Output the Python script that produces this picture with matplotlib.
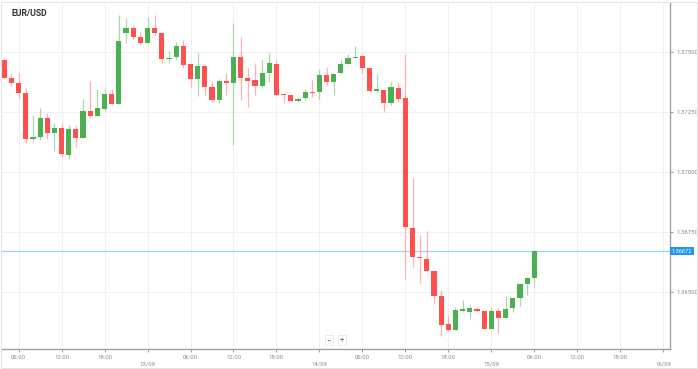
import matplotlib
matplotlib.use("Agg")
import matplotlib.pyplot as plt
from matplotlib.patches import Rectangle
import numpy as np

plt.rcParams['font.family'] = ['Roboto', 'DejaVu Sans']

title = "EUR/USD"
first_hour = 4  # first candle: 12/09 04:00 (hours counted from 12/09 00:00)
opens = [1.37468, 1.37394, 1.37371, 1.37329, 1.37140, 1.37146, 1.37228, 1.37163, 1.37183, 1.37072,
         1.37179, 1.37142, 1.37257, 1.37235, 1.37264, 1.37325, 1.37285, 1.37579, 1.37600, 1.37565,
         1.37538, 1.37600, 1.37582, 1.37471, 1.37479, 1.37528, 1.37450, 1.37388, 1.37442, 1.37357,
         1.37301, 1.37382, 1.37371, 1.37479, 1.37392, 1.37385, 1.37360, 1.37413, 1.37451, 1.37326,
         1.37322, 1.37297, 1.37308, 1.37336, 1.37336, 1.37405, 1.37376, 1.37413, 1.37451, 1.37475,
         1.37485, 1.37436, 1.37339, 1.37343, 1.37288, 1.37350, 1.37308, 1.36769, 1.36648, 1.36640,
         1.36590, 1.36485, 1.36367, 1.36344, 1.36423, 1.36417, 1.36430, 1.36423, 1.36348, 1.36422,
         1.36394, 1.36433, 1.36475, 1.36533, 1.36561]
highs = [1.37476, 1.37415, 1.37415, 1.37350, 1.37239, 1.37267, 1.37248, 1.37204, 1.37204, 1.37197,
         1.37197, 1.37304, 1.37380, 1.37346, 1.37350, 1.37346, 1.37655, 1.37642, 1.37614, 1.37586,
         1.37648, 1.37655, 1.37582, 1.37507, 1.37542, 1.37551, 1.37450, 1.37496, 1.37447, 1.37378,
         1.37388, 1.37415, 1.37623, 1.37565, 1.37433, 1.37454, 1.37468, 1.37498, 1.37468, 1.37326,
         1.37322, 1.37315, 1.37346, 1.37385, 1.37429, 1.37438, 1.37410, 1.37471, 1.37493, 1.37526,
         1.37493, 1.37436, 1.37408, 1.37343, 1.37378, 1.37378, 1.37493, 1.36976, 1.36739, 1.36757,
         1.36590, 1.36510, 1.36401, 1.36440, 1.36468, 1.36447, 1.36440, 1.36423, 1.36436, 1.36436,
         1.36485, 1.36475, 1.36538, 1.36565, 1.36676]
lows = [1.37393, 1.37360, 1.37308, 1.37123, 1.37128, 1.37135, 1.37138, 1.37090, 1.37063, 1.37054,
        1.37107, 1.37142, 1.37225, 1.37235, 1.37255, 1.37285, 1.37285, 1.37540, 1.37551, 1.37535,
        1.37538, 1.37572, 1.37457, 1.37454, 1.37471, 1.37433, 1.37354, 1.37318, 1.37322, 1.37294,
        1.37290, 1.37322, 1.37114, 1.37301, 1.37273, 1.37322, 1.37354, 1.37378, 1.37322, 1.37288,
        1.37294, 1.37294, 1.37301, 1.37315, 1.37305, 1.37360, 1.37322, 1.37410, 1.37451, 1.37475,
        1.37413, 1.37336, 1.37329, 1.37253, 1.37280, 1.37294, 1.36554, 1.36607, 1.36540, 1.36586,
        1.36451, 1.36316, 1.36337, 1.36344, 1.36419, 1.36388, 1.36419, 1.36348, 1.36348, 1.36330,
        1.36394, 1.36419, 1.36444, 1.36489, 1.36521]
closes = [1.37394, 1.37371, 1.37329, 1.37138, 1.37148, 1.37228, 1.37163, 1.37183, 1.37076, 1.37179,
          1.37142, 1.37257, 1.37235, 1.37267, 1.37325, 1.37285, 1.37547, 1.37603, 1.37565, 1.37538,
          1.37600, 1.37582, 1.37471, 1.37476, 1.37528, 1.37447, 1.37388, 1.37442, 1.37357, 1.37301,
          1.37382, 1.37371, 1.37482, 1.37392, 1.37382, 1.37360, 1.37413, 1.37454, 1.37322, 1.37321,
          1.37297, 1.37305, 1.37333, 1.37332, 1.37405, 1.37378, 1.37410, 1.37451, 1.37475, 1.37482,
          1.37433, 1.37339, 1.37346, 1.37290, 1.37354, 1.37305, 1.36771, 1.36646, 1.36642, 1.36590,
          1.36485, 1.36365, 1.36344, 1.36426, 1.36429, 1.36436, 1.36423, 1.36348, 1.36422, 1.36394,
          1.36429, 1.36475, 1.36533, 1.36561, 1.36672]

x_tick_hours = [6, 12, 18, 24, 30, 36, 42, 48, 54, 60, 66, 72, 78, 84, 90, 96]
x_tick_labels = ["06:00", "12:00", "18:00", "\n13/09", "06:00", "12:00", "18:00", "\n14/09",
                 "06:00", "12:00", "18:00", "\n15/09", "06:00", "12:00", "18:00", "\n16/09"]
y_ticks = [1.36500, 1.36750, 1.37000, 1.37250, 1.37500]
y_tick_labels = ["1.36500", "1.36750", "1.37000", "1.37250", "1.37500"]

W, H = 698, 369
fig = plt.figure(figsize=(W / 100, H / 100), dpi=100)
fig.patches.append(Rectangle((0.5 / W, 1.5 / H), (W - 1.5) / W, (H - 3) / H, transform=fig.transFigure,
                             fill=False, edgecolor='#e4e4e4', linewidth=0.8))
ax = fig.add_axes([2 / W, 1 - 349 / H, (669.5 - 2) / W, (349 - 3) / H])
ax.set_facecolor('white')

GREEN = '#4caf50'
RED = '#ff4f4f'
hours = first_hour + np.arange(len(opens))
o = np.array(opens); c = np.array(closes); hi = np.array(highs); lo = np.array(lows)
up = c >= o
colors = np.where(up, GREEN, RED)
wick_colors = np.where(up, '#a8d8aa', '#ffb0b0')

ax.vlines(hours, lo, hi, colors=wick_colors, linewidth=0.9, zorder=3)
body_bottom = np.minimum(o, c)
body_h = np.maximum(np.abs(c - o), 0.000045)
ax.bar(hours, body_h, bottom=body_bottom, width=0.72, color=colors, linewidth=0, zorder=4)

ax.set_xlim(3.68, 96.88)
ax.set_ylim(1.362638, 1.377054)

ax.set_xticks(x_tick_hours)
ax.set_xticklabels(x_tick_labels)
ax.set_yticks(y_ticks)
ax.set_yticklabels(y_tick_labels)
ax.yaxis.tick_right()
ax.grid(True, color='#f0f0f0', linewidth=0.8, zorder=0)
ax.set_axisbelow(True)
ax.tick_params(axis='both', labelsize=4.3, colors='#8a8a8a', length=2.5, width=0.6, pad=2)
ax.tick_params(axis='y', pad=2.5)
for s in ['top', 'left']:
    ax.spines[s].set_visible(False)
ax.spines['right'].set_color('#a0a0a0')
ax.spines['bottom'].set_color('#a0a0a0')
ax.spines['right'].set_linewidth(1)
ax.spines['bottom'].set_linewidth(1)

# current price line and label
last = closes[-1]
ax.axhline(last, color='#9fd0f5', linewidth=0.9, zorder=2)
ax.annotate(f"{last:.5f}", xy=(1.0, last), xycoords=('axes fraction', 'data'),
            xytext=(1.8, 0), textcoords='offset points', va='center', ha='left',
            fontsize=4.1, color='white',
            bbox=dict(boxstyle='square,pad=0.3', fc='#2196f3', ec='none'))

# title
fig.text(12 / W, 1 - 13 / H, title, fontsize=6.2, fontweight='bold', color='#333333',
         ha='left', va='center')

# zoom buttons
for label, px in [("\u2212", 329), ("+", 342)]:
    fig.text(px / W, 1 - 340 / H, label, fontsize=5.5, color='#555555', ha='center', va='center',
             bbox=dict(boxstyle='square,pad=0.25', fc='white', ec='#e6e6e6', lw=0.6))

fig.savefig("out.png", dpi=100)
